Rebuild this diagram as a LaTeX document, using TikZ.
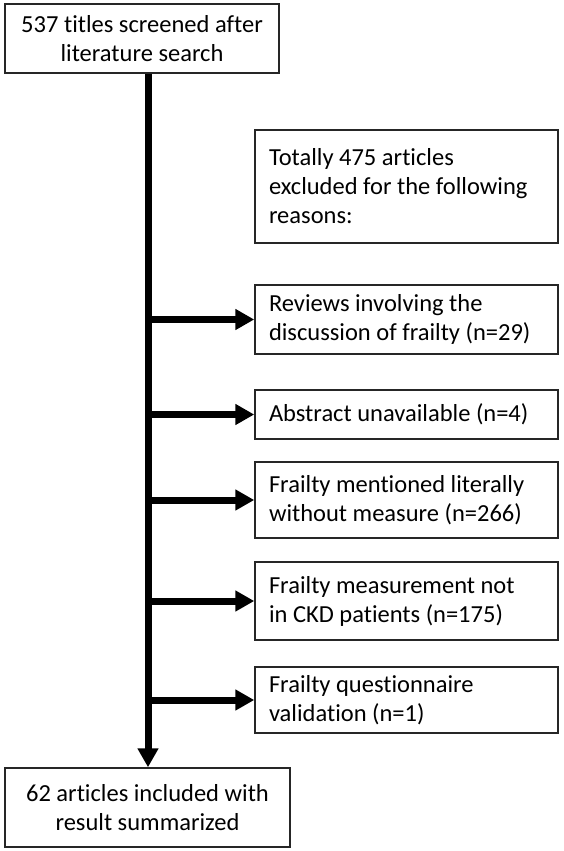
\documentclass[tikz,border=0pt]{standalone}
\usepackage{fontspec}
\setmainfont{Carlito}[Ligatures=NoCommon]
\usetikzlibrary{arrows.meta}
\begin{document}
\begin{tikzpicture}[x=1pt,y=-1pt,
  box/.style={draw=black!85,line width=1.5pt,rectangle,inner sep=0pt,
    font=\fontsize{24.5}{29}\selectfont},
  cbox/.style={box,align=center},
  rbox/.style={box,minimum width=303pt,text width=275pt,align=flush left},
  flow/.style={line width=7pt,-{Triangle[length=19pt,width=20pt]}}]
\useasboundingbox[fill=white] (0,0) rectangle (563,851);
\node[cbox,minimum width=274pt,minimum height=69pt] (top) at (142,38.5)
  {537 titles screened after\\literature search};
\node[cbox,minimum width=285pt,minimum height=79pt] (bot) at (147.5,807.5)
  {62 articles included with\\result summarized};
\node[rbox,minimum height=113pt] (tot) at (406.5,186.5)
  {Totally 475 articles\\excluded for the following\\reasons:};
\node[rbox,minimum height=69pt] (r1) at (406.5,319.5)
  {Reviews involving the\\discussion of frailty (n=29)};
\node[rbox,minimum height=49pt] (r2) at (406.5,414.5)
  {Abstract unavailable (n=4)};
\node[rbox,minimum height=76pt] (r3) at (406.5,500)
  {Frailty mentioned literally\\without measure (n=266)};
\node[rbox,minimum height=78pt] (r4) at (406.5,601)
  {Frailty measurement not\\in CKD patients (n=175)};
\node[rbox,minimum height=66pt] (r5) at (406.5,700)
  {Frailty questionnaire\\validation (n=1)};
\coordinate (spine) at (148,0);
\draw[flow] (top.south -| spine) -- (bot.north -| spine);
\foreach \r in {r1,r2,r3,r4,r5}
  \draw[flow] (spine |- \r.west) -- (\r.west);
\end{tikzpicture}
\end{document}
